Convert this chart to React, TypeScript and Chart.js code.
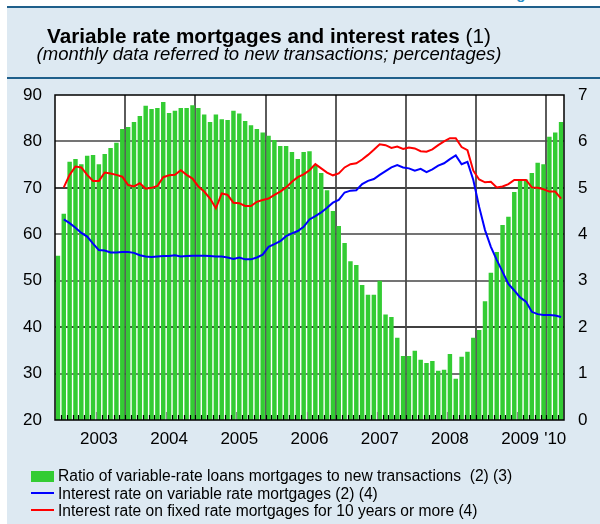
import React, { useEffect, useRef } from "react";
import { Chart, registerables } from "chart.js";

Chart.register(...registerables);

const FONT = "'Liberation Sans', Arial, Helvetica, sans-serif";

// Monthly categories (Dec 2002 – Feb 2010)
const months: string[] = [
  "2002-12",
  "2003-01", "2003-02", "2003-03", "2003-04", "2003-05", "2003-06", "2003-07", "2003-08", "2003-09", "2003-10", "2003-11", "2003-12",
  "2004-01", "2004-02", "2004-03", "2004-04", "2004-05", "2004-06", "2004-07", "2004-08", "2004-09", "2004-10", "2004-11", "2004-12",
  "2005-01", "2005-02", "2005-03", "2005-04", "2005-05", "2005-06", "2005-07", "2005-08", "2005-09", "2005-10", "2005-11", "2005-12",
  "2006-01", "2006-02", "2006-03", "2006-04", "2006-05", "2006-06", "2006-07", "2006-08", "2006-09", "2006-10", "2006-11", "2006-12",
  "2007-01", "2007-02", "2007-03", "2007-04", "2007-05", "2007-06", "2007-07", "2007-08", "2007-09", "2007-10", "2007-11", "2007-12",
  "2008-01", "2008-02", "2008-03", "2008-04", "2008-05", "2008-06", "2008-07", "2008-08", "2008-09", "2008-10", "2008-11", "2008-12",
  "2009-01", "2009-02", "2009-03", "2009-04", "2009-05", "2009-06", "2009-07", "2009-08", "2009-09", "2009-10", "2009-11", "2009-12",
  "2010-01", "2010-02",
];

// Ratio of variable-rate loans to new transactions (left axis, %)
const ratio: number[] = [
  55.4,
  64.4, 75.6, 76.2, 75.1, 76.9, 77.1, 75.1, 77.3, 78.6, 79.7, 82.7, 83.1,
  84.2, 85.5, 87.7, 87.0, 87.2, 88.5, 86.1, 86.6, 87.2, 87.2, 87.8, 87.2,
  85.8, 84.2, 85.8, 84.8, 84.6, 86.6, 86.0, 84.4, 83.5, 82.7, 81.9, 81.2,
  80.3, 79.0, 79.0, 77.7, 76.2, 77.7, 77.9, 74.9, 73.2, 69.5, 65.0, 61.8,
  58.1, 54.2, 53.4, 49.1, 47.0, 47.0, 50.0, 42.7, 42.2, 37.7, 33.8, 33.8,
  34.9, 33.0, 32.3, 32.7, 30.6, 30.8, 34.2, 28.9, 33.6, 34.7, 37.7, 39.4,
  45.6, 51.7, 56.2, 62.0, 63.8, 69.1, 71.5, 71.8, 73.2, 75.4, 75.1, 81.0,
  81.9, 84.2,
];

// Interest rate on variable rate mortgages (right axis, %)
const variableRate: (number | null)[] = [
  null,
  4.32, 4.24, 4.14, 4.03, 3.95, 3.80, 3.66, 3.65, 3.61, 3.61, 3.62, 3.62,
  3.60, 3.55, 3.52, 3.51, 3.52, 3.53, 3.53, 3.55, 3.52, 3.53, 3.54, 3.54,
  3.54, 3.53, 3.52, 3.52, 3.50, 3.47, 3.50, 3.46, 3.46, 3.50, 3.56, 3.73,
  3.79, 3.85, 3.96, 4.02, 4.07, 4.16, 4.32, 4.39, 4.47, 4.57, 4.68, 4.74,
  4.90, 4.94, 4.95, 5.08, 5.15, 5.19, 5.28, 5.36, 5.44, 5.49, 5.44, 5.42,
  5.37, 5.41, 5.34, 5.40, 5.48, 5.53, 5.62, 5.70, 5.51, 5.56, 5.17, 4.59,
  4.09, 3.73, 3.45, 3.19, 2.93, 2.79, 2.64, 2.55, 2.33, 2.28, 2.26, 2.26,
  2.25, 2.22,
];

// Interest rate on fixed rate mortgages for 10 years or more (right axis, %)
const fixedRate: (number | null)[] = [
  null,
  5.01, 5.28, 5.46, 5.44, 5.28, 5.15, 5.15, 5.33, 5.31, 5.28, 5.24, 5.06,
  5.03, 5.10, 4.98, 5.00, 5.04, 5.23, 5.27, 5.28, 5.38, 5.28, 5.20, 5.03,
  4.92, 4.77, 4.56, 4.88, 4.85, 4.68, 4.67, 4.61, 4.61, 4.70, 4.74, 4.77,
  4.85, 4.92, 5.01, 5.13, 5.23, 5.29, 5.38, 5.51, 5.42, 5.33, 5.27, 5.31,
  5.44, 5.51, 5.53, 5.61, 5.71, 5.82, 5.94, 5.92, 5.86, 5.89, 5.84, 5.87,
  5.85, 5.79, 5.78, 5.83, 5.92, 6.00, 6.07, 6.07, 5.88, 5.81, 5.37, 5.18,
  5.12, 5.13, 5.01, 5.03, 5.08, 5.17, 5.17, 5.17, 5.01, 5.00, 4.97, 4.92,
  4.92, 4.77,
];

// Year tick labels and the month they sit on
const yearTickMonths: string[] = ["2003-07", "2004-07", "2005-07", "2006-07", "2007-07", "2008-07", "2009-07", "2010-01"];
const yearTickLabels: string[] = ["2003", "2004", "2005", "2006", "2007", "2008", "2009", "'10"];
const tallTickMonths: string[] = ["2003-07", "2004-07", "2005-07", "2006-07", "2007-07", "2008-07", "2009-07"];
// vertical grid lines sit on the left edge of these months
const yearGridMonths: string[] = ["2003-12", "2004-12", "2005-12", "2006-12", "2007-12", "2008-12", "2009-12"];
// horizontal grid lines (left-axis values); dark ones drawn in black
const gridValues: number[] = [30, 40, 50, 60, 70, 80];
const darkGridValues: number[] = [40, 70];

const legendLabels: string[] = [
  "Ratio of variable-rate loans mortgages to new transactions\u00a0 (2) (3)",
  "Interest rate on variable rate mortgages (2) (4)",
  "Interest rate on fixed rate mortgages for 10 years or more (4)",
];

const GREEN = "#33cc33";
const BLUE = "#0000ff";
const RED = "#ff0000";
const BG = "#dde9f2";
const RULE = "#1f5f8b";

const framePlugin = {
  id: "frame",
  beforeDatasetsDraw(chart: any) {
    const { ctx, chartArea: a, scales } = chart;
    const x = scales.x;
    const y = scales.y;
    ctx.save();
    ctx.fillStyle = "#ffffff";
    ctx.fillRect(a.left, a.top, a.right - a.left, a.bottom - a.top);
    for (const v of gridValues) {
      const py = Math.round(y.getPixelForValue(v));
      const dark = darkGridValues.includes(v);
      ctx.strokeStyle = dark ? "#000000" : "#747474";
      ctx.lineWidth = dark ? 1.6 : 2;
      ctx.beginPath();
      ctx.moveTo(a.left, py);
      ctx.lineTo(a.right, py);
      ctx.stroke();
    }
    for (let i = 1; i < months.length; i++) {
      if (!yearGridMonths.includes(months[i])) continue;
      const px = Math.round((x.getPixelForValue(i - 1) + x.getPixelForValue(i)) / 2);
      ctx.strokeStyle = "#4a4a4a";
      ctx.lineWidth = 1.8;
      ctx.beginPath();
      ctx.moveTo(px, a.top);
      ctx.lineTo(px, a.bottom);
      ctx.stroke();
    }
    ctx.restore();
  },
  afterDatasetsDraw(chart: any) {
    const { ctx, chartArea: a, scales } = chart;
    const x = scales.x;
    ctx.save();
    ctx.lineWidth = 1.2;
    for (let i = 1; i < months.length; i++) {
      const px = Math.round((x.getPixelForValue(i - 1) + x.getPixelForValue(i)) / 2) + 0.5;
      const tall = tallTickMonths.includes(months[i]);
      ctx.strokeStyle = tall ? "#8a8a8a" : "#000000";
      ctx.beginPath();
      ctx.moveTo(px, a.bottom);
      ctx.lineTo(px, a.bottom - (tall ? 8 : 5));
      ctx.stroke();
    }
    ctx.strokeStyle = "#000000";
    ctx.lineWidth = 1.5;
    ctx.strokeRect(Math.round(a.left), Math.round(a.top), Math.round(a.right - a.left), Math.round(a.bottom - a.top));
    ctx.restore();
  },
};

function ChartCanvas() {
  const ref = useRef<HTMLCanvasElement | null>(null);
  useEffect(() => {
    if (!ref.current) return;
    const chart = new Chart(ref.current, {
      type: "bar",
      data: {
        labels: months,
        datasets: [
          { type: "line", label: legendLabels[2], data: fixedRate, yAxisID: "y2", borderColor: RED, backgroundColor: RED, borderWidth: 2, pointRadius: 0, tension: 0, order: 1 } as any,
          { type: "line", label: legendLabels[1], data: variableRate, yAxisID: "y2", borderColor: BLUE, backgroundColor: BLUE, borderWidth: 2, pointRadius: 0, tension: 0, order: 2 } as any,
          { type: "bar", label: legendLabels[0], data: ratio, yAxisID: "y", backgroundColor: GREEN, borderWidth: 0, categoryPercentage: 1, barPercentage: 0.76, order: 3 } as any,
        ],
      },
      options: {
        responsive: false,
        maintainAspectRatio: false,
        devicePixelRatio: 1,
        animation: false,
        layout: { padding: { top: 95, left: 0, right: 0, bottom: 0 } },
        plugins: { legend: { display: false }, tooltip: { enabled: false }, title: { display: false } },
        scales: {
          x: {
            type: "category",
            offset: true,
            grid: { display: false, drawTicks: false },
            border: { display: false },
            ticks: {
              autoSkip: false, maxRotation: 0, minRotation: 0, padding: 9, color: "#000000",
              font: { family: FONT, size: 17 },
              callback: (_v: any, i: number) => {
                const k = yearTickMonths.indexOf(months[i]);
                return k >= 0 ? yearTickLabels[k] : "";
              },
            },
            afterFit: (s: any) => { s.height = 104; },
          },
          y: {
            position: "left", min: 20, max: 90,
            grid: { display: false, drawTicks: false },
            border: { display: false },
            ticks: { stepSize: 10, padding: 13, color: "#000000", font: { family: FONT, size: 17 } },
            afterFit: (s: any) => { s.width = 55; },
          },
          y2: {
            position: "right", min: 0, max: 7,
            grid: { display: false, drawTicks: false, drawOnChartArea: false },
            border: { display: false },
            ticks: { stepSize: 1, padding: 14, color: "#000000", font: { family: FONT, size: 17 } },
            afterFit: (s: any) => { s.width = 36; },
          },
        },
      } as any,
      plugins: [framePlugin],
    });
    return () => chart.destroy();
  }, []);
  return <canvas ref={ref} width={600} height={524} style={{ position: "absolute", left: 0, top: 0, width: 600, height: 524, display: "block" }} />;
}

export default function App() {
  const abs: React.CSSProperties = { position: "absolute" };
  const legendFont = `15.6px ${FONT}`;
  return (
    <div style={{ position: "absolute", left: 0, top: 0, width: 600, height: 524, background: "#ffffff", overflow: "hidden", fontFamily: FONT, color: "#000" }}>
      <div style={{ ...abs, left: 7, top: 8, width: 593, height: 516, background: BG }} />
      <div style={{ ...abs, left: 7, top: 6, width: 593, height: 2, background: RULE }} />
      <div style={{ ...abs, left: 7, top: 77, width: 593, height: 2, background: RULE }} />
      <div style={{ ...abs, left: 503, top: -14, font: `bold 15px ${FONT}`, lineHeight: "15px", color: "#2a8fc8", whiteSpace: "nowrap" }}>Figure 9</div>
      <ChartCanvas />
      <div style={{ ...abs, left: 0, width: 538, top: 24.5, textAlign: "center", font: `bold 20.7px ${FONT}`, lineHeight: "21px", whiteSpace: "nowrap" }}>
        Variable rate mortgages and interest rates <span style={{ fontWeight: "normal" }}>(1)</span>
      </div>
      <div style={{ ...abs, left: 0, width: 538, top: 44, textAlign: "center", font: `italic 18.5px ${FONT}`, lineHeight: "19px", whiteSpace: "nowrap" }}>
        (monthly data referred to new transactions; percentages)
      </div>
      <div style={{ ...abs, left: 31, top: 471, width: 23, height: 11, background: GREEN }} />
      <div style={{ ...abs, left: 31, top: 492, width: 23, height: 2, background: BLUE }} />
      <div style={{ ...abs, left: 31, top: 509, width: 23, height: 2, background: RED }} />
      <div style={{ ...abs, left: 58, top: 467, font: legendFont, lineHeight: "17px", whiteSpace: "nowrap" }}>{legendLabels[0]}</div>
      <div style={{ ...abs, left: 58, top: 484.5, font: legendFont, lineHeight: "17px", whiteSpace: "nowrap" }}>{legendLabels[1]}</div>
      <div style={{ ...abs, left: 58, top: 502, font: legendFont, lineHeight: "17px", whiteSpace: "nowrap" }}>{legendLabels[2]}</div>
    </div>
  );
}
